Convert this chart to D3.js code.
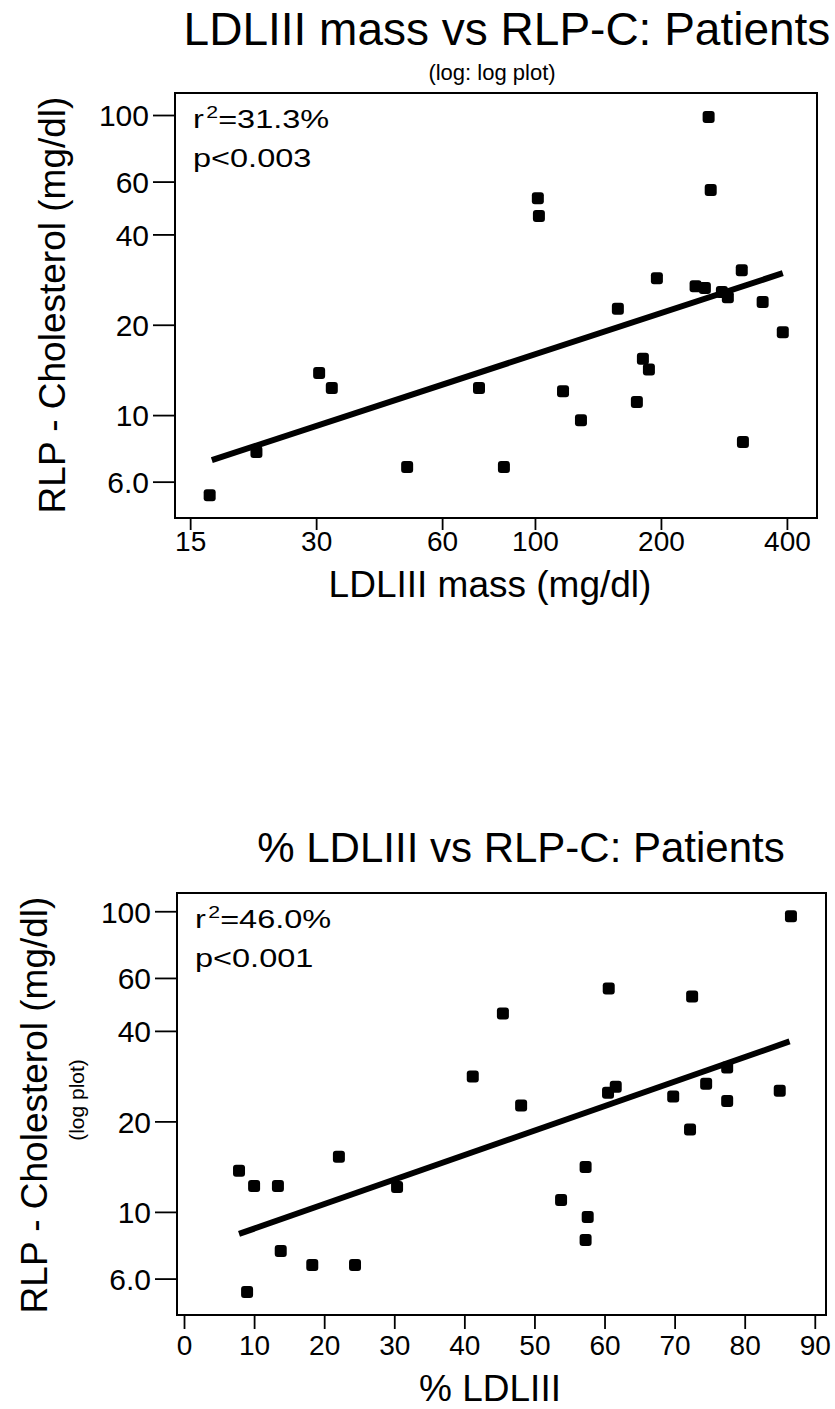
<!DOCTYPE html>
<html><head><meta charset="utf-8">
<script src="https://cdn.jsdelivr.net/npm/d3@7"></script>
<style>body{margin:0;background:#fff}text{font-family:"Liberation Sans",Arial,sans-serif;fill:#000}</style>
</head><body>
<svg id="c" width="835" height="1409"></svg>
<script>
// ---- Data: Panel 1 (LDLIII mass vs RLP-C, log-log) ----
const massX = [16.7,21.6,30.5,32.7,49.5,73.5,84.3,101.6,102.2,116.7,128.8,157.8,175.2,181.1,187.2,195.6,242,254.7,260,263,279.7,289,312,314,350,391];
const massY = [5.41,7.53,13.8,12.3,6.71,12.3,6.71,52.8,46.1,12.0,9.62,22.6,11.05,15.4,14.2,28.6,26.9,26.5,98.5,56.2,25.7,24.7,30.4,8.13,23.8,18.9];
const massFitX = [16.9, 391];
const massFitY = [7.08, 29.7];
const massXTicks = [15,30,60,100,200,400];
const rlpYTicks = [6,10,20,40,60,100];
const rlpYTickLabels = ["6.0","10","20","40","60","100"];

// ---- Data: Panel 2 (% LDLIII vs RLP-C, log y) ----
const pctX = [7.85,10.0,13.4,22.1,30.4,13.8,18.3,24.4,9.0,48.1,57.3,53.8,57.6,57.3,69.8,72.2,77.5,85.0,86.6,60.6,72.5,45.5,61.6,60.5,74.5,77.5,41.2];
const pctY = [13.7,12.2,12.2,15.25,12.1,7.41,6.66,6.66,5.41,22.6,14.1,10.96,9.62,8.07,24.2,18.8,23.4,25.3,96.3,55.3,52.1,45.7,26.1,24.9,26.7,30.2,28.2];
const pctFitX = [7.85, 86.4];
const pctFitY = [8.45, 36.9];
const pctXTicks = [0,10,20,30,40,50,60,70,80,90];

const svg = d3.select("#c");
const FF = "Liberation Sans, Arial, sans-serif";

function panel(o){
  const g = svg.append("g");
  const x = o.xScale, y = o.yScale;
  const [x0,x1] = x.range(), [y1,y0] = y.range();
  // title
  g.append("text").attr("x",o.titleX).attr("y",o.titleY).attr("text-anchor","middle")
    .attr("font-size",o.titleSize).text(o.title);
  if(o.subtitle) g.append("text").attr("x",o.subX).attr("y",o.subY).attr("text-anchor","middle")
    .attr("font-size",22).text(o.subtitle);
  // frame
  g.append("rect").attr("x",x0).attr("y",y0).attr("width",x1-x0).attr("height",y1-y0)
    .attr("fill","none").attr("stroke","#000").attr("stroke-width",2);
  // axes
  const ya = d3.axisLeft(y).tickValues(rlpYTicks).tickFormat((d,i)=>rlpYTickLabels[i]).tickSize(22).tickPadding(4);
  const yg = g.append("g").attr("transform",`translate(${x0},0)`).call(ya);
  yg.select(".domain").remove();
  yg.attr("font-size",null).attr("font-family",null);
  yg.selectAll("line").attr("stroke","#000").attr("stroke-width",1.8);
  yg.selectAll("text").attr("font-size",30).attr("font-family",FF).attr("dy","0.36em");
  const xa = d3.axisBottom(x).tickValues(o.xTicks).tickFormat(d=>String(d)).tickSize(o.xTickSize).tickPadding(o.xTickPad);
  const xg = g.append("g").attr("transform",`translate(0,${y1})`).call(xa);
  xg.select(".domain").remove();
  xg.attr("font-size",null).attr("font-family",null);
  xg.selectAll("line").attr("stroke","#000").attr("stroke-width",1.8);
  xg.selectAll("text").attr("font-size",28).attr("font-family",FF);
  // axis titles
  g.append("text").attr("x",o.xLabelX).attr("y",o.xLabelY).attr("text-anchor","middle").attr("font-size",37).text(o.xLabel);
  g.append("text").attr("transform",`translate(${o.yLabelX},${o.yLabelCY}) rotate(-90)`).attr("text-anchor","middle")
    .attr("font-size",37).text("RLP - Cholesterol (mg/dl)");
  if(o.yNote) g.append("text").attr("transform",`translate(${o.yNoteX},${o.yNoteCY}) rotate(-90)`).attr("text-anchor","middle")
    .attr("font-size",21).text(o.yNote);
  // stats
  const sx = x0+18;
  const st = g.append("text").attr("transform",`translate(${sx},${y0+35}) scale(1.25,1)`).attr("font-size",26);
  st.append("tspan").text("r");
  st.append("tspan").attr("dx",2).attr("dy",-10).attr("font-size",17).text("2");
  st.append("tspan").attr("dy",10).text("=" + o.r2);
  g.append("text").attr("transform",`translate(${sx},${y0+74}) scale(1.25,1)`).attr("font-size",26).text(o.p);
  // fit line
  const fit = o.fitX.map((v,i)=>[v,o.fitY[i]]);
  g.append("path").attr("d",d3.line().x(d=>x(d[0])).y(d=>y(d[1]))(fit))
    .attr("stroke","#000").attr("stroke-width",6).attr("fill","none");
  // points
  const pts = o.px.map((v,i)=>[v,o.py[i]]);
  g.selectAll("rect.pt").data(pts).join("rect").attr("class","pt")
    .attr("x",d=>x(d[0])-6).attr("y",d=>y(d[1])-6).attr("width",12).attr("height",12)
    .attr("rx",3).attr("fill","#000");
}

// Panel 1
panel({
  xScale: d3.scaleLog().domain([13.8,472]).range([175,817]),
  yScale: d3.scaleLog().domain([4.54,118.4]).range([518,93]),
  xTicks: massXTicks, xTickSize: 12, xTickPad: 1,
  title: "LDLIII mass vs RLP-C: Patients", titleX: 507, titleY: 45, titleSize: 46,
  subtitle: "(log: log plot)", subX: 492, subY: 80,
  xLabel: "LDLIII mass (mg/dl)", xLabelX: 490, xLabelY: 597,
  yLabelX: 65, yLabelCY: 305,
  r2: "31.3%", p: "p<0.003",
  fitX: massFitX, fitY: massFitY, px: massX, py: massY
});

// Panel 2
panel({
  xScale: d3.scaleLinear().domain([-1.0,91.6]).range([177,826]),
  yScale: d3.scaleLog().domain([4.54,115]).range([1315,893]),
  xTicks: pctXTicks, xTickSize: 14, xTickPad: 6,
  title: "% LDLIII vs RLP-C: Patients", titleX: 521, titleY: 862, titleSize: 42,
  xLabel: "% LDLIII", xLabelX: 490, xLabelY: 1401,
  yLabelX: 47, yLabelCY: 1105,
  yNote: "(log plot)", yNoteX: 84, yNoteCY: 1100,
  r2: "46.0%", p: "p<0.001",
  fitX: pctFitX, fitY: pctFitY, px: pctX, py: pctY
});
</script>
</body></html>
